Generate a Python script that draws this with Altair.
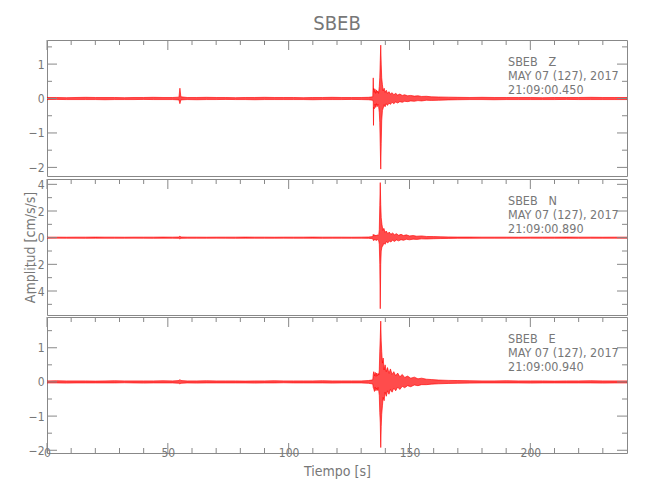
import altair as alt
import pandas as pd

FONT = "Liberation Sans Narrow, DejaVu Sans Condensed, Arial Narrow, sans-serif"
GRAY = "#777777"
TICKC = "#888888"
RED = "#ff0000"
W, H = 580, 136
X_DOMAIN = [0, 240]
X_LABELS = [0, 50, 100, 150, 200]
X_MINOR = [10, 20, 30, 40, 60, 70, 80, 90, 110, 120, 130, 140, 160, 170, 180, 190, 210, 220, 230]

# background time samples (quiet part, 0-133 s and 175-240 s)
bg_t = [0, 4, 8, 12, 16, 20, 24, 28, 32, 36, 40, 44, 48, 52,
        54.6, 55.0, 55.4,
        58, 62, 66, 70, 74, 78, 82, 86, 90, 94, 98, 102, 106, 110, 114, 118, 122, 126, 130,
        133]
tail_t = [175, 180, 185, 190, 195, 200, 205, 210, 215, 220, 225, 230, 235, 240]

# ---------------- Z component (envelope: max / min per time) ----------------
z_bg_hi = [0.03, 0.03, 0.025, 0.03, 0.035, 0.03, 0.03, 0.03, 0.025, 0.03, 0.03, 0.035, 0.03, 0.03,
           0.04, 0.30, 0.05,
           0.03, 0.03, 0.035, 0.03, 0.03, 0.025, 0.03, 0.03, 0.035, 0.03, 0.03, 0.03, 0.025, 0.03, 0.03, 0.035, 0.03, 0.03, 0.03,
           0.035]
z_bg_lo = [-0.03, -0.025, -0.03, -0.03, -0.03, -0.03, -0.035, -0.03, -0.03, -0.03, -0.025, -0.03, -0.03, -0.03,
           -0.04, -0.15, -0.04,
           -0.03, -0.035, -0.03, -0.03, -0.025, -0.03, -0.03, -0.035, -0.03, -0.03, -0.03, -0.03, -0.03, -0.035, -0.03, -0.03, -0.03, -0.025, -0.03,
           -0.035]
z_ev_t = [134.8, 135.0, 135.1, 135.2, 135.4, 135.7, 136.0, 136.3, 136.6, 136.9, 137.2, 137.5, 137.7, 137.9, 138.1, 138.3, 138.5,
          138.8, 139.1, 139.5, 139.9, 140.4, 140.9, 141.5, 142.1, 142.8, 143.5, 144.3, 145.1, 146, 147, 148, 149.2, 150.5,
          152, 153.5, 155, 157, 159, 162, 166, 170]
z_ev_hi = [0.05, 0.60, 0.25, 0.30, 0.18, 0.28, 0.15, 0.25, 0.18, 0.22, 0.15, 0.35, 0.60, 1.10, 1.55, 1.00, 0.60,
           0.40, 0.22, 0.30, 0.18, 0.24, 0.15, 0.20, 0.13, 0.17, 0.11, 0.15, 0.10, 0.13, 0.09, 0.11, 0.08, 0.09,
           0.07, 0.08, 0.06, 0.065, 0.05, 0.045, 0.04, 0.035]
z_ev_lo = [-0.05, -0.10, -0.78, -0.25, -0.30, -0.16, -0.26, -0.15, -0.24, -0.16, -0.22, -0.40, -0.70, -1.40, -2.05, -1.30, -0.65,
           -0.35, -0.28, -0.18, -0.24, -0.15, -0.20, -0.13, -0.17, -0.11, -0.15, -0.10, -0.13, -0.09, -0.11, -0.08, -0.09, -0.07,
           -0.08, -0.06, -0.07, -0.05, -0.055, -0.05, -0.04, -0.035]
z_tail_hi = [0.03, 0.035, 0.03, 0.03, 0.03, 0.03, 0.025, 0.03, 0.03, 0.03, 0.035, 0.03, 0.03, 0.03]
z_tail_lo = [-0.03, -0.03, -0.035, -0.03, -0.03, -0.03, -0.03, -0.03, -0.025, -0.03, -0.03, -0.03, -0.03, -0.03]

# ---------------- N component ----------------
n_bg_hi = [0.04, 0.04, 0.035, 0.04, 0.04, 0.045, 0.04, 0.04, 0.035, 0.04, 0.04, 0.04, 0.045, 0.04,
           0.05, 0.12, 0.05,
           0.04, 0.04, 0.035, 0.04, 0.04, 0.04, 0.045, 0.04, 0.04, 0.035, 0.04, 0.04, 0.04, 0.045, 0.04, 0.04, 0.04, 0.035, 0.04,
           0.05]
n_bg_lo = [-0.04, -0.035, -0.04, -0.04, -0.045, -0.04, -0.04, -0.04, -0.04, -0.035, -0.04, -0.045, -0.04, -0.04,
           -0.05, -0.10, -0.05,
           -0.04, -0.04, -0.04, -0.035, -0.04, -0.045, -0.04, -0.04, -0.04, -0.04, -0.035, -0.04, -0.04, -0.04, -0.045, -0.04, -0.04, -0.04, -0.04,
           -0.05]
n_ev_t = [134.8, 135.0, 135.2, 135.5, 135.8, 136.1, 136.4, 136.7, 137.0, 137.3, 137.5, 137.7, 137.9, 138.1, 138.3,
          138.6, 139.0, 139.4, 139.9, 140.4, 141, 141.6, 142.3, 143, 143.8, 144.6, 145.5, 146.5, 147.5, 148.7, 150,
          151.5, 153, 155, 157, 160, 163, 166, 170]
n_ev_hi = [0.08, 0.25, 0.15, 0.22, 0.12, 0.20, 0.14, 0.22, 0.15, 0.25, 0.60, 2.40, 4.13, 2.50, 1.50,
           1.00, 0.55, 0.70, 0.40, 0.50, 0.30, 0.42, 0.25, 0.35, 0.22, 0.30, 0.18, 0.25, 0.16, 0.21, 0.13,
           0.16, 0.11, 0.13, 0.09, 0.08, 0.065, 0.055, 0.045]
n_ev_lo = [-0.08, -0.20, -0.22, -0.12, -0.20, -0.12, -0.22, -0.14, -0.20, -0.25, -0.50, -2.00, -5.33, -2.00, -1.00,
           -0.70, -0.60, -0.40, -0.50, -0.30, -0.40, -0.25, -0.32, -0.20, -0.28, -0.17, -0.24, -0.15, -0.20, -0.12, -0.16,
           -0.11, -0.13, -0.09, -0.10, -0.08, -0.065, -0.055, -0.045]
n_tail_hi = [0.045, 0.04, 0.04, 0.04, 0.035, 0.04, 0.04, 0.04, 0.045, 0.04, 0.04, 0.035, 0.04, 0.04]
n_tail_lo = [-0.045, -0.04, -0.04, -0.04, -0.04, -0.035, -0.04, -0.04, -0.04, -0.045, -0.04, -0.04, -0.04, -0.04]

# ---------------- E component ----------------
e_bg_hi = [0.03, 0.035, 0.03, 0.03, 0.03, 0.025, 0.03, 0.035, 0.03, 0.03, 0.03, 0.03, 0.035, 0.03,
           0.04, 0.07, 0.04,
           0.03, 0.03, 0.035, 0.03, 0.03, 0.03, 0.025, 0.03, 0.03, 0.035, 0.03, 0.03, 0.03, 0.03, 0.035, 0.03, 0.03, 0.03, 0.03,
           0.04]
e_bg_lo = [-0.03, -0.03, -0.035, -0.03, -0.03, -0.03, -0.03, -0.03, -0.025, -0.03, -0.035, -0.03, -0.03, -0.03,
           -0.04, -0.06, -0.04,
           -0.03, -0.035, -0.03, -0.03, -0.03, -0.03, -0.03, -0.035, -0.03, -0.03, -0.025, -0.03, -0.03, -0.03, -0.03, -0.035, -0.03, -0.03, -0.03,
           -0.04]
e_ev_t = [134.8, 135.0, 135.2, 135.5, 135.8, 136.1, 136.4, 136.7, 137.0, 137.3, 137.5, 137.7, 137.9, 138.1, 138.3,
          138.5, 138.8, 139.1, 139.5, 139.9, 140.4, 140.9, 141.5, 142.1, 142.8, 143.5, 144.3, 145.1, 146, 147, 148,
          149.2, 150.5, 152, 153.5, 155, 157, 159, 162, 166, 170]
e_ev_hi = [0.06, 0.22, 0.30, 0.18, 0.28, 0.16, 0.26, 0.18, 0.25, 0.20, 0.35, 0.90, 1.30, 1.78, 1.20,
           0.90, 0.55, 0.70, 0.35, 0.50, 0.30, 0.42, 0.25, 0.38, 0.22, 0.30, 0.18, 0.26, 0.15, 0.22, 0.13,
           0.17, 0.11, 0.14, 0.09, 0.11, 0.08, 0.07, 0.055, 0.045, 0.04]
e_ev_lo = [-0.06, -0.17, -0.20, -0.28, -0.15, -0.26, -0.18, -0.25, -0.16, -0.28, -0.40, -0.90, -1.20, -1.92, -1.30,
           -0.95, -0.70, -0.45, -0.55, -0.30, -0.42, -0.26, -0.36, -0.22, -0.30, -0.18, -0.26, -0.15, -0.22, -0.13, -0.17,
           -0.11, -0.14, -0.09, -0.11, -0.08, -0.08, -0.065, -0.055, -0.045, -0.04]
e_tail_hi = [0.035, 0.03, 0.03, 0.035, 0.03, 0.03, 0.03, 0.025, 0.03, 0.03, 0.035, 0.03, 0.03, 0.03]
e_tail_lo = [-0.035, -0.03, -0.03, -0.03, -0.03, -0.035, -0.03, -0.03, -0.03, -0.03, -0.03, -0.035, -0.03, -0.03]


def seg(t, hi, lo):
    n = min(len(t), len(hi), len(lo))
    return pd.DataFrame({"t": t[:n], "hi": hi[:n], "lo": lo[:n]})


def trace(bh, bl, et, eh, el, th, tl):
    return pd.concat([seg(bg_t, bh, bl), seg(et, eh, el), seg(tail_t, th, tl)], ignore_index=True)


PANELS = [
    dict(df=trace(z_bg_hi, z_bg_lo, z_ev_t, z_ev_hi, z_ev_lo, z_tail_hi, z_tail_lo),
         dom=[-2.25, 1.7], major=[-2, -1, 0, 1], minor=[-1.5, -0.5, 0.5, 1.5],
         note="SBEB\u00a0\u00a0\u00a0Z\nMAY 07 (127), 2017\n21:09:00.450", ytitle=None, bottom=False, title="SBEB"),
    dict(df=trace(n_bg_hi, n_bg_lo, n_ev_t, n_ev_hi, n_ev_lo, n_tail_hi, n_tail_lo),
         dom=[-5.8, 4.4], major=[-4, -2, 0, 2, 4], minor=[-5, -3, -1, 1, 3],
         note="SBEB\u00a0\u00a0\u00a0N\nMAY 07 (127), 2017\n21:09:00.890", ytitle="Amplitud  [cm/s/s]", bottom=False, title=None),
    dict(df=trace(e_bg_hi, e_bg_lo, e_ev_t, e_ev_hi, e_ev_lo, e_tail_hi, e_tail_lo),
         dom=[-2.08, 1.9], major=[-2, -1, 0, 1], minor=[-1.5, -0.5, 0.5, 1.5],
         note="SBEB\u00a0\u00a0\u00a0E\nMAY 07 (127), 2017\n21:09:00.940", ytitle=None, bottom=True, title=None),
]

MAJ, MIN = 10, 5


def build(p):
    df = p["df"]
    xs = alt.Scale(domain=X_DOMAIN, nice=False, zero=False)
    ys = alt.Scale(domain=p["dom"], nice=False, zero=False)
    if p["bottom"]:
        xax = alt.Axis(values=X_LABELS, ticks=False, domain=False, grid=False, labelFont=FONT,
                       labelFontSize=12, labelColor=GRAY, labelPadding=-6, labelFlush=False,
                       labelOverlap=False, title="Tiempo  [s]", titleFont=FONT, titleFontSize=14,
                       titleColor=GRAY, titleFontWeight="normal", titlePadding=6)
    else:
        xax = None
    yargs = dict(values=p["major"], ticks=False, domain=False, grid=False, labelFont=FONT,
                 labelFontSize=12, labelColor=GRAY, labelPadding=3, labelFlush=False, labelOverlap=False)
    if p["ytitle"]:
        yax = alt.Axis(title=p["ytitle"], titleFont=FONT, titleFontSize=14, titleColor=GRAY,
                       titleFontWeight="normal", titleX=-17, titleY=H / 2, titleAngle=270,
                       titleAlign="center", titleBaseline="middle", **yargs)
    else:
        yax = alt.Axis(title=None, **yargs)

    area = alt.Chart(df).mark_area(color=RED, fillOpacity=0.7, stroke=RED, strokeWidth=0.7,
                                   strokeOpacity=0.9, clip=True).encode(
        x=alt.X("t:Q", scale=xs, axis=xax),
        y=alt.Y("hi:Q", scale=ys, axis=yax),
        y2="lo:Q",
    )
    layers = [area]

    def xt(vals, length, where):
        d = pd.DataFrame({"v": vals})
        if where == "top":
            yy = dict(y=alt.value(0), y2=alt.value(length))
        else:
            yy = dict(y=alt.value(H), y2=alt.value(H - length))
        return alt.Chart(d).mark_rule(color=TICKC, strokeWidth=1).encode(
            x=alt.X("v:Q", scale=xs, axis=xax), **yy)

    def yt(vals, length, where):
        d = pd.DataFrame({"v": vals})
        if where == "left":
            xx = dict(x=alt.value(0), x2=alt.value(length))
        else:
            xx = dict(x=alt.value(W), x2=alt.value(W - length))
        return alt.Chart(d).mark_rule(color=TICKC, strokeWidth=1).encode(
            y=alt.Y("v:Q", scale=ys, axis=yax), **xx)

    layers += [xt(X_LABELS, MAJ, "top"), xt(X_MINOR, MIN, "top")]
    if p["bottom"]:
        layers += [xt(X_LABELS, MAJ, "bottom"), xt(X_MINOR, MIN, "bottom")]
    layers += [yt(p["major"], MAJ, "left"), yt(p["minor"], MIN, "left"),
               yt(p["major"], MAJ, "right"), yt(p["minor"], MIN, "right")]

    txt = alt.Chart(pd.DataFrame({"txt": [p["note"]]})).mark_text(
        align="left", baseline="alphabetic", lineBreak="\n", lineHeight=14,
        font=FONT, fontSize=12.5, color=GRAY).encode(
        text="txt:N", x=alt.value(461), y=alt.value(26))
    layers.append(txt)

    ch = alt.layer(*layers).properties(width=W, height=H)
    if p["title"]:
        ch = ch.properties(title=alt.TitleParams(p["title"], font=FONT, fontSize=20, color=GRAY,
                                                 fontWeight="normal", anchor="middle", frame="group",
                                                 offset=6))
    return ch


charts = [build(p) for p in PANELS]
chart = alt.vconcat(*charts, spacing=0).configure_view(stroke=TICKC, strokeWidth=1).properties(
    padding={"left": 14, "top": 5, "right": 5, "bottom": 5})

chart.save("out.html", embed_options={"renderer": "svg", "actions": False})
